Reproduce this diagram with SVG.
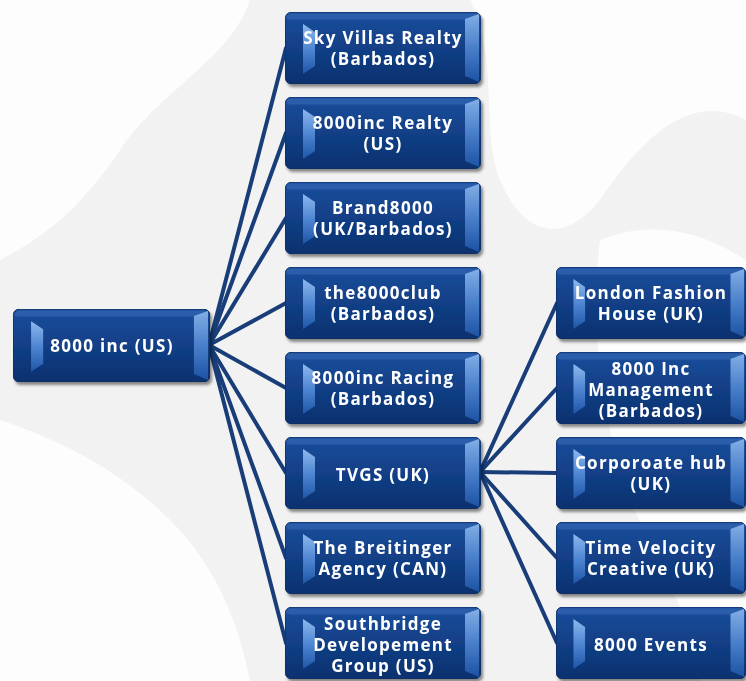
<svg xmlns="http://www.w3.org/2000/svg" width="746" height="681" viewBox="0 0 746 681">
<defs>
<linearGradient id="face" x1="0" y1="0" x2="0" y2="1">
<stop offset="0" stop-color="#1C4E9C"/>
<stop offset="0.5" stop-color="#123F86"/>
<stop offset="1" stop-color="#0B316F"/>
</linearGradient>
<linearGradient id="bev" x1="0" y1="0" x2="0" y2="1">
<stop offset="0" stop-color="#8DB8EE"/>
<stop offset="0.5" stop-color="#4F86D2"/>
<stop offset="1" stop-color="#1F56A8"/>
</linearGradient>
<filter id="sh" x="-10%" y="-10%" width="125%" height="130%">
<feDropShadow dx="2" dy="3" stdDeviation="1.5" flood-color="#000" flood-opacity="0.45"/>
</filter>
<symbol id="btn" viewBox="0 0 196 72" preserveAspectRatio="none">
<rect x="0" y="0" width="196" height="72" rx="7" fill="url(#face)" stroke="#0A2A5E" stroke-width="1"/>
<rect x="1.5" y="1.5" width="193" height="6" rx="4" fill="#3A6CB8" opacity="0.55"/>
<polygon points="18,12 30,20 30,54 18,62" fill="url(#bev)"/>
<polygon points="180,7 194,2 194,70 180,64" fill="url(#bev)" opacity="0.9"/>
</symbol>
</defs>
<style>
.t{font-family:"Open Sans","Liberation Sans",sans-serif;font-weight:bold;font-size:17px;letter-spacing:1.3px;fill:#FFFFFF;text-anchor:middle}
.c{stroke:#183D78;stroke-width:4;fill:none;stroke-linecap:round}
</style>
<rect width="746" height="681" fill="#F2F2F3"/>
<g fill="#FFFFFF" opacity="0.85">
<path d="M0,0 H250 C230,60 160,90 120,150 C80,210 40,240 0,260 Z"/>
<path d="M470,0 H746 V120 C690,90 640,140 600,200 C560,250 520,230 500,180 C480,130 500,60 470,0 Z"/>
<path d="M0,420 C60,440 120,470 170,520 C220,570 240,630 250,681 H0 Z"/>
<path d="M600,240 C650,220 700,230 746,260 V681 H700 C690,600 640,540 620,470 C600,400 590,320 600,240 Z"/>
</g>
<g id="connectors">
<line class="c" x1="209" y1="345" x2="286" y2="48"/>
<line class="c" x1="209" y1="345" x2="286" y2="133"/>
<line class="c" x1="209" y1="345" x2="286" y2="218"/>
<line class="c" x1="209" y1="345" x2="286" y2="303"/>
<line class="c" x1="209" y1="345" x2="286" y2="388"/>
<line class="c" x1="209" y1="345" x2="286" y2="473"/>
<line class="c" x1="209" y1="345" x2="286" y2="558"/>
<line class="c" x1="209" y1="345" x2="286" y2="643"/>
<line class="c" x1="480" y1="472" x2="557" y2="303"/>
<line class="c" x1="480" y1="472" x2="557" y2="388"/>
<line class="c" x1="480" y1="472" x2="557" y2="473"/>
<line class="c" x1="480" y1="472" x2="557" y2="558"/>
<line class="c" x1="480" y1="472" x2="557" y2="643"/>
</g>
<g id="root" filter="url(#sh)"><use href="#btn" x="13" y="309" width="197" height="73"/><text class="t" x="112" y="352">8000 inc (US)</text></g>
<g id="n1" filter="url(#sh)"><use href="#btn" x="285" y="12" width="196" height="72"/><text class="t" x="383" y="44">Sky Villas Realty</text><text class="t" x="383" y="65">(Barbados)</text></g>
<g id="n2" filter="url(#sh)"><use href="#btn" x="285" y="97" width="196" height="72"/><text class="t" x="383" y="129">8000inc Realty</text><text class="t" x="383" y="150">(US)</text></g>
<g id="n3" filter="url(#sh)"><use href="#btn" x="285" y="182" width="196" height="72"/><text class="t" x="383" y="214">Brand8000</text><text class="t" x="383" y="235">(UK/Barbados)</text></g>
<g id="n4" filter="url(#sh)"><use href="#btn" x="285" y="267" width="196" height="72"/><text class="t" x="383" y="299">the8000club</text><text class="t" x="383" y="320">(Barbados)</text></g>
<g id="n5" filter="url(#sh)"><use href="#btn" x="285" y="352" width="196" height="72"/><text class="t" x="383" y="384">8000inc Racing</text><text class="t" x="383" y="405">(Barbados)</text></g>
<g id="n6" filter="url(#sh)"><use href="#btn" x="285" y="437" width="196" height="72"/><text class="t" x="383" y="481">TVGS (UK)</text></g>
<g id="n7" filter="url(#sh)"><use href="#btn" x="285" y="522" width="196" height="72"/><text class="t" x="383" y="554">The Breitinger</text><text class="t" x="383" y="575">Agency (CAN)</text></g>
<g id="n8" filter="url(#sh)"><use href="#btn" x="285" y="607" width="196" height="72"/><text class="t" x="383" y="630">Southbridge</text><text class="t" x="383" y="651">Developement</text><text class="t" x="383" y="672">Group (US)</text></g>
<g id="m1" filter="url(#sh)"><use href="#btn" x="556" y="267" width="190" height="72"/><text class="t" x="651" y="299">London Fashion</text><text class="t" x="651" y="320">House (UK)</text></g>
<g id="m2" filter="url(#sh)"><use href="#btn" x="556" y="352" width="190" height="72"/><text class="t" x="651" y="375">8000 Inc</text><text class="t" x="651" y="396">Management</text><text class="t" x="651" y="417">(Barbados)</text></g>
<g id="m3" filter="url(#sh)"><use href="#btn" x="556" y="437" width="190" height="72"/><text class="t" x="651" y="469">Corporoate hub</text><text class="t" x="651" y="490">(UK)</text></g>
<g id="m4" filter="url(#sh)"><use href="#btn" x="556" y="522" width="190" height="72"/><text class="t" x="651" y="554">Time Velocity</text><text class="t" x="651" y="575">Creative (UK)</text></g>
<g id="m5" filter="url(#sh)"><use href="#btn" x="556" y="607" width="190" height="72"/><text class="t" x="651" y="651">8000 Events</text></g>
</svg>
